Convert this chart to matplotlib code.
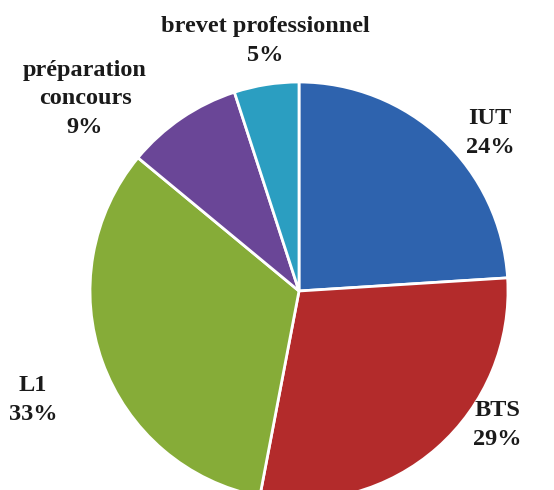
import matplotlib.pyplot as plt

# parts des orientations
labels = ['IUT', 'BTS', 'L1', 'préparation\nconcours', 'brevet professionnel']
values = [24, 29, 33, 9, 5]
colors = ['#2E63AE', '#B32B2B', '#86AC38', '#6A4697', '#2B9EC1']

# label centres in pixels (x, y from top)
label_pos = [(490, 133), (497, 425), (33, 400), (85, 99), (265, 41)]

W, H = 554, 490
fig = plt.figure(figsize=(W / 100, H / 100), dpi=100)
ax = fig.add_axes([0, 0, 1, 1])

ax.pie(values, colors=colors, startangle=90, counterclock=False,
       center=(299, H - 291), radius=209,
       wedgeprops=dict(edgecolor='white', linewidth=2))
ax.set_xlim(0, W)
ax.set_ylim(0, H)
ax.set_aspect('equal')
ax.axis('off')

for lab, v, (x, y) in zip(labels, values, label_pos):
    ax.text(x, H - y, f'{lab}\n{v}%', ha='center', va='center',
            fontsize=17.5, fontweight='bold', family='Liberation Serif',
            color='#1a1a1a', linespacing=1.45)

fig.savefig('out.png', dpi=100)
